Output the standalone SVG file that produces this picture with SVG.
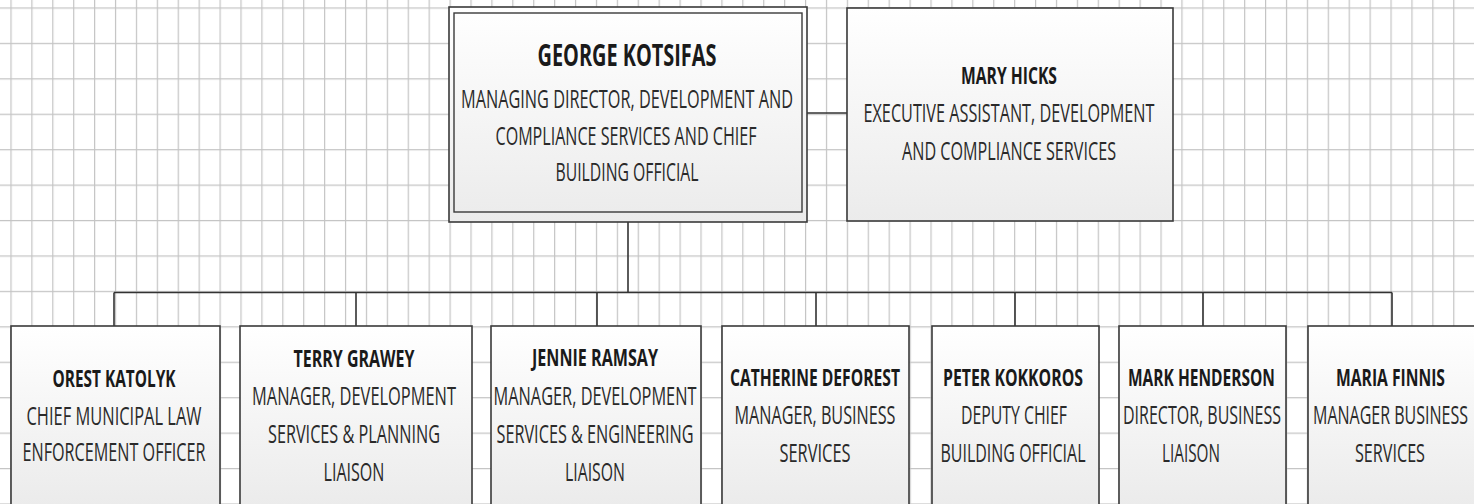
<svg xmlns="http://www.w3.org/2000/svg" width="1474" height="504" viewBox="0 0 1474 504">
<style>
.box{fill:url(#fillg);stroke:#3a3a3a;stroke-width:1.6}
.in{fill:none;stroke:#3a3a3a;stroke-width:1.4}
.conn{fill:none;stroke:#333;stroke-width:1.6}
text{font-family:"Open Sans","Liberation Sans",sans-serif;fill:#2a2a2a;text-anchor:middle}
.n{font-weight:bold;font-size:15.5px;fill:#1a1a1a}
.t{font-size:16px}
.gn{font-weight:bold;font-size:19.5px;fill:#1a1a1a}
</style>
<defs>
<linearGradient id="fillg" x1="0" y1="0" x2="0" y2="1">
<stop offset="0" stop-color="#ffffff"/>
<stop offset="1" stop-color="#ebebeb"/>
</linearGradient>
<pattern id="grid" x="10.4" y="7.4" width="20.91" height="35.43" patternUnits="userSpaceOnUse">
<path d="M0.6 0V35.43M0 0.6H20.91" stroke="#c4c4c4" stroke-width="1.2" fill="none"/>
</pattern>
</defs>
<rect width="1474" height="504" fill="#ffffff"/>
<rect width="1474" height="504" fill="url(#grid)"/>
<g id="connectors">
<path class="conn" d="M807 113H847"/>
<path class="conn" d="M628 222V292.5"/>
<path class="conn" d="M114 292.5H1392"/>
<path class="conn" d="M114 292.5V326M356 292.5V326M597 292.5V326M816 292.5V326M1015 292.5V326M1203 292.5V326M1392 292.5V326"/>
</g>
<g id="george">
<rect class="box" x="449" y="7" width="358" height="215"/>
<rect class="in" x="454" y="13" width="348" height="199"/>
<text class="gn" x="627" y="66" transform="matrix(1 0 0 1.55 0 -36.3)" textLength="179" lengthAdjust="spacingAndGlyphs">GEORGE KOTSIFAS</text>
<text class="t" x="627" y="108" transform="matrix(1 0 0 1.55 0 -59.4)" textLength="332" lengthAdjust="spacingAndGlyphs">MANAGING DIRECTOR, DEVELOPMENT AND</text>
<text class="t" x="626" y="145" transform="matrix(1 0 0 1.55 0 -79.75)" textLength="261" lengthAdjust="spacingAndGlyphs">COMPLIANCE SERVICES AND CHIEF</text>
<text class="t" x="627" y="181" transform="matrix(1 0 0 1.55 0 -99.55)" textLength="143" lengthAdjust="spacingAndGlyphs">BUILDING OFFICIAL</text>
</g>
<g id="mary">
<rect class="box" x="847" y="8" width="326" height="213"/>
<text class="n" x="1009" y="84" transform="matrix(1 0 0 1.55 0 -46.2)" textLength="96" lengthAdjust="spacingAndGlyphs">MARY HICKS</text>
<text class="t" x="1009" y="122" transform="matrix(1 0 0 1.55 0 -67.1)" textLength="291" lengthAdjust="spacingAndGlyphs">EXECUTIVE ASSISTANT, DEVELOPMENT</text>
<text class="t" x="1009" y="160" transform="matrix(1 0 0 1.55 0 -88)" textLength="214" lengthAdjust="spacingAndGlyphs">AND COMPLIANCE SERVICES</text>
</g>
<g id="orest">
<rect class="box" x="11" y="326" width="209" height="180"/>
<text class="n" x="114" y="387" transform="matrix(1 0 0 1.55 0 -212.85)" textLength="123" lengthAdjust="spacingAndGlyphs">OREST KATOLYK</text>
<text class="t" x="114" y="425" transform="matrix(1 0 0 1.55 0 -233.75)" textLength="175" lengthAdjust="spacingAndGlyphs">CHIEF MUNICIPAL LAW</text>
<text class="t" x="114" y="461" transform="matrix(1 0 0 1.55 0 -253.55)" textLength="183" lengthAdjust="spacingAndGlyphs">ENFORCEMENT OFFICER</text>
</g>
<g id="terry">
<rect class="box" x="240" y="326" width="232" height="180"/>
<text class="n" x="354" y="367" transform="matrix(1 0 0 1.55 0 -201.85)" textLength="121" lengthAdjust="spacingAndGlyphs">TERRY GRAWEY</text>
<text class="t" x="354" y="405" transform="matrix(1 0 0 1.55 0 -222.75)" textLength="204" lengthAdjust="spacingAndGlyphs">MANAGER, DEVELOPMENT</text>
<text class="t" x="354" y="443" transform="matrix(1 0 0 1.55 0 -243.65)" textLength="172" lengthAdjust="spacingAndGlyphs">SERVICES &amp; PLANNING</text>
<text class="t" x="354" y="481" transform="matrix(1 0 0 1.55 0 -264.55)" textLength="61" lengthAdjust="spacingAndGlyphs">LIAISON</text>
</g>
<g id="jennie">
<rect class="box" x="491" y="326" width="210" height="180"/>
<text class="n" x="595" y="366" transform="matrix(1 0 0 1.55 0 -201.3)" textLength="126" lengthAdjust="spacingAndGlyphs">JENNIE RAMSAY</text>
<text class="t" x="595" y="405" transform="matrix(1 0 0 1.55 0 -222.75)" textLength="203" lengthAdjust="spacingAndGlyphs">MANAGER, DEVELOPMENT</text>
<text class="t" x="595" y="443" transform="matrix(1 0 0 1.55 0 -243.65)" textLength="197" lengthAdjust="spacingAndGlyphs">SERVICES &amp; ENGINEERING</text>
<text class="t" x="595" y="481" transform="matrix(1 0 0 1.55 0 -264.55)" textLength="60" lengthAdjust="spacingAndGlyphs">LIAISON</text>
</g>
<g id="catherine">
<rect class="box" x="722" y="326" width="187" height="180"/>
<text class="n" x="815" y="386" transform="matrix(1 0 0 1.55 0 -212.3)" textLength="170" lengthAdjust="spacingAndGlyphs">CATHERINE DEFOREST</text>
<text class="t" x="815" y="424" transform="matrix(1 0 0 1.55 0 -233.2)" textLength="161" lengthAdjust="spacingAndGlyphs">MANAGER, BUSINESS</text>
<text class="t" x="815" y="462" transform="matrix(1 0 0 1.55 0 -254.1)" textLength="71" lengthAdjust="spacingAndGlyphs">SERVICES</text>
</g>
<g id="peter">
<rect class="box" x="932" y="326" width="167" height="180"/>
<text class="n" x="1013" y="386" transform="matrix(1 0 0 1.55 0 -212.3)" textLength="140" lengthAdjust="spacingAndGlyphs">PETER KOKKOROS</text>
<text class="t" x="1014" y="424" transform="matrix(1 0 0 1.55 0 -233.2)" textLength="106" lengthAdjust="spacingAndGlyphs">DEPUTY CHIEF</text>
<text class="t" x="1013" y="462" transform="matrix(1 0 0 1.55 0 -254.1)" textLength="145" lengthAdjust="spacingAndGlyphs">BUILDING OFFICIAL</text>
</g>
<g id="mark">
<rect class="box" x="1119" y="326" width="167" height="180"/>
<text class="n" x="1201.5" y="386" transform="matrix(1 0 0 1.55 0 -212.3)" textLength="147" lengthAdjust="spacingAndGlyphs">MARK HENDERSON</text>
<text class="t" x="1202" y="424" transform="matrix(1 0 0 1.55 0 -233.2)" textLength="158" lengthAdjust="spacingAndGlyphs">DIRECTOR, BUSINESS</text>
<text class="t" x="1191" y="462" transform="matrix(1 0 0 1.55 0 -254.1)" textLength="58" lengthAdjust="spacingAndGlyphs">LIAISON</text>
</g>
<g id="maria">
<rect class="box" x="1308" y="326" width="175" height="180"/>
<text class="n" x="1390.5" y="386" transform="matrix(1 0 0 1.55 0 -212.3)" textLength="109" lengthAdjust="spacingAndGlyphs">MARIA FINNIS</text>
<text class="t" x="1390.5" y="424" transform="matrix(1 0 0 1.55 0 -233.2)" textLength="155" lengthAdjust="spacingAndGlyphs">MANAGER BUSINESS</text>
<text class="t" x="1390" y="462" transform="matrix(1 0 0 1.55 0 -254.1)" textLength="70" lengthAdjust="spacingAndGlyphs">SERVICES</text>
</g>
</svg>
